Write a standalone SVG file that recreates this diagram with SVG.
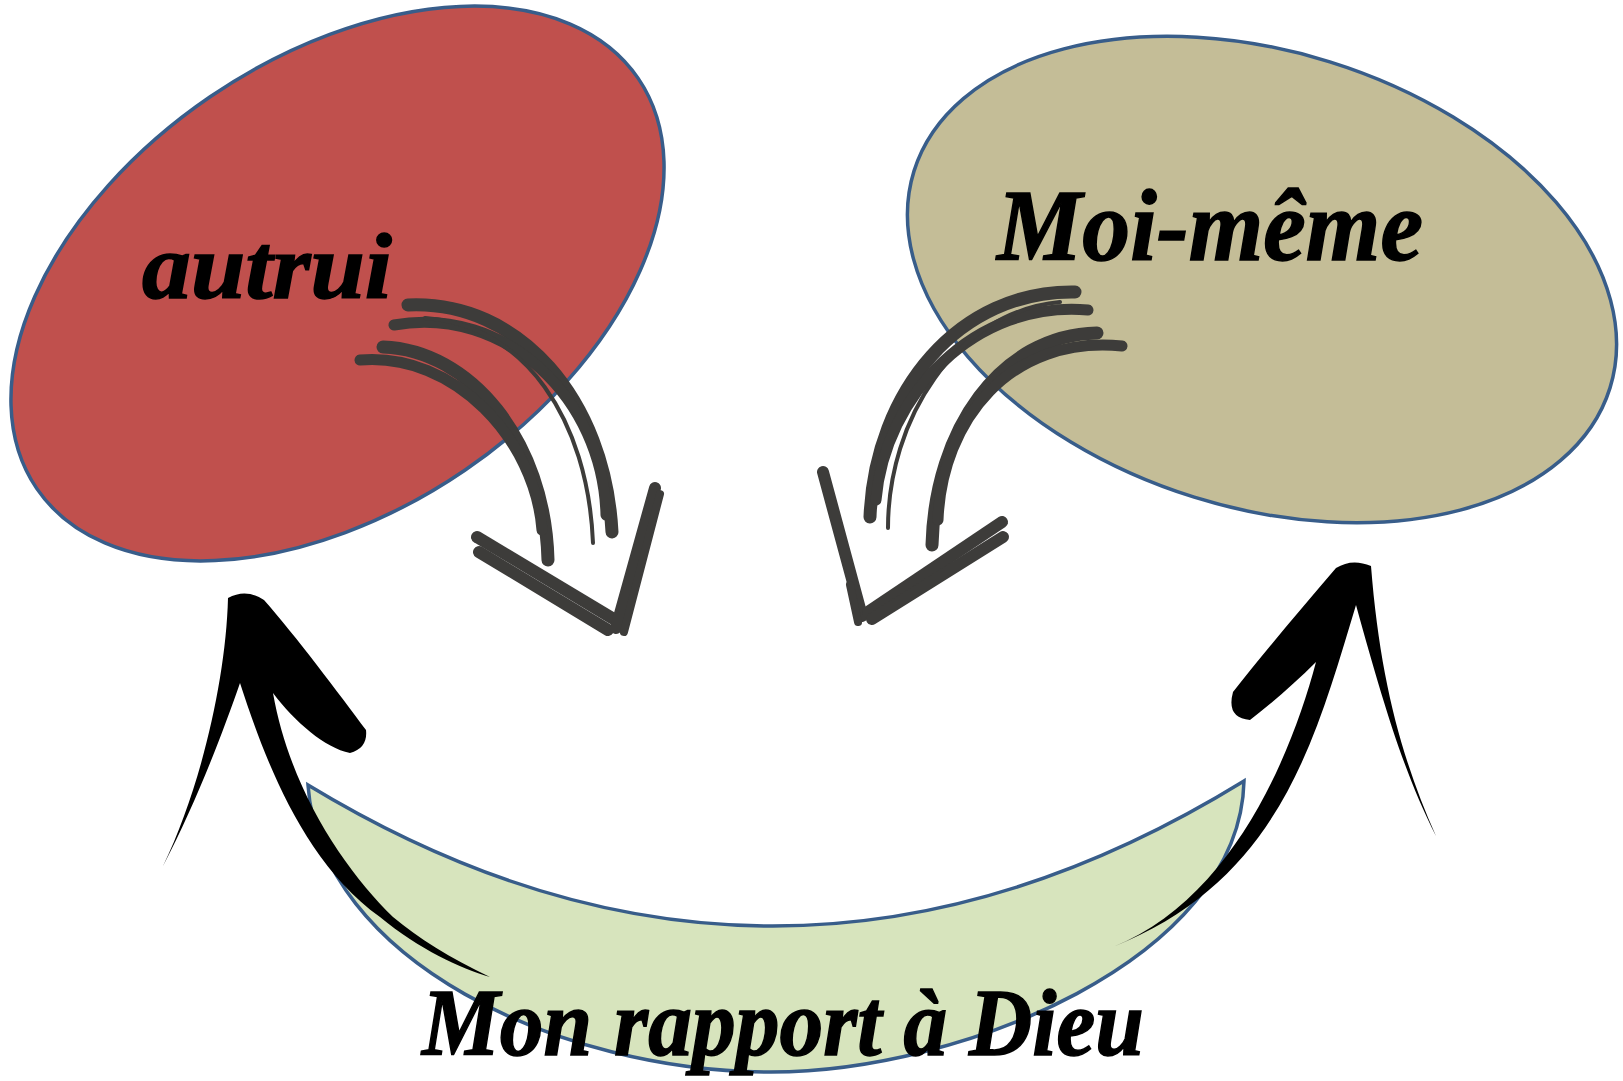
<svg xmlns="http://www.w3.org/2000/svg" width="1623" height="1081" viewBox="0 0 1623 1081">
<style>
.node{stroke:#385D8A;stroke-width:3.5}
.lbl{font-family:"Liberation Serif","DejaVu Serif",serif;font-weight:bold;font-style:italic;fill:#000;stroke:#000;stroke-width:1.5}
.g{fill:none;stroke:#3D3C3A;stroke-linecap:round;stroke-linejoin:round}
.w13{stroke-width:13}.w12{stroke-width:12}.w11{stroke-width:11}.w8{stroke-width:8}.w4{stroke-width:4}
.brush{fill:#000}
</style>
<rect width="1623" height="1081" fill="#fff"/>
<g id="node-autrui">
<ellipse class="node" cx="337.5" cy="283.5" rx="364" ry="226" transform="rotate(-34.3 337.5 283.5)" fill="#C0504D"/>
<text class="lbl" x="142" y="298" font-size="94" textLength="250" lengthAdjust="spacingAndGlyphs">autrui</text>
</g>
<g id="node-moi-meme">
<ellipse class="node" cx="1262" cy="279.5" rx="364.5" ry="228" transform="rotate(17.3 1262 279.5)" fill="#C4BD97"/>
<text class="lbl" x="997" y="260" font-size="102" textLength="426" lengthAdjust="spacingAndGlyphs">Moi-même</text>
</g>
<g id="node-dieu">
<path class="node" fill="#D7E4BD" d="M308,785 Q776,1069 1244,781 C1240,960 960,1072 771,1072 C560,1072 320,960 308,785 Z"/>
<text class="lbl" x="422" y="1055" font-size="96" textLength="722" lengthAdjust="spacingAndGlyphs">Mon rapport à Dieu</text>
</g>
<g id="connectors">
<g id="arrow-autrui-center">
<path class="g w13" d="M408,305 C520,300 605,400 612,532"/>
<path class="g w11" d="M394,325 C505,305 603,398 606,515"/>
<path class="g w4" d="M425,318 C525,325 588,420 593,543"/>
<path class="g w13" d="M383,347 C470,350 545,440 548,560"/>
<path class="g w11" d="M360,360 C455,352 535,440 542,530"/>
<path class="g w12" d="M477,537 L612,618"/>
<path class="g w12" d="M479,552 L608,630"/>
<path class="g w12" d="M655,488 L616,628"/>
<path class="g w8" d="M660,494 L624,632"/>
</g>
<g id="arrow-moi-center">
<path class="g w13" d="M1075,292 C960,290 875,390 870,517"/>
<path class="g w11" d="M1088,310 C975,300 885,395 876,500"/>
<path class="g w4" d="M1060,302 C955,312 888,420 888,528"/>
<path class="g w13" d="M1097,333 C1000,335 935,430 932,545"/>
<path class="g w11" d="M1122,346 C1010,335 942,420 938,520"/>
<path class="g w12" d="M823,472 L862,616"/>
<path class="g w8" d="M850,585 L858,622"/>
<path class="g w12" d="M1002,522 L868,612"/>
<path class="g w12" d="M1003,537 L872,619"/>
</g>
<g id="arrow-dieu-autrui">
<path class="brush" d="M228,598 C226,680 200,790 163,866 C195,805 222,735 240,683 C262,750 300,860 380,917 C420,950 460,968 490,977 C450,958 418,938 393,917 C345,870 290,790 273,693 C295,722 325,748 350,753 Q368,748 366,730 C340,695 295,635 264,600 Q246,588 228,598 Z"/>
</g>
<g id="arrow-dieu-moi">
<path class="brush" d="M1371,566 C1380,680 1402,760 1436,836 C1405,775 1385,710 1356,605 C1315,740 1280,880 1113,947 C1230,900 1290,760 1316,662 C1295,683 1272,703 1250,720 Q1226,718 1233,692 C1262,655 1300,610 1336,568 Q1352,558 1371,566 Z"/>
</g>
</g>
</svg>
